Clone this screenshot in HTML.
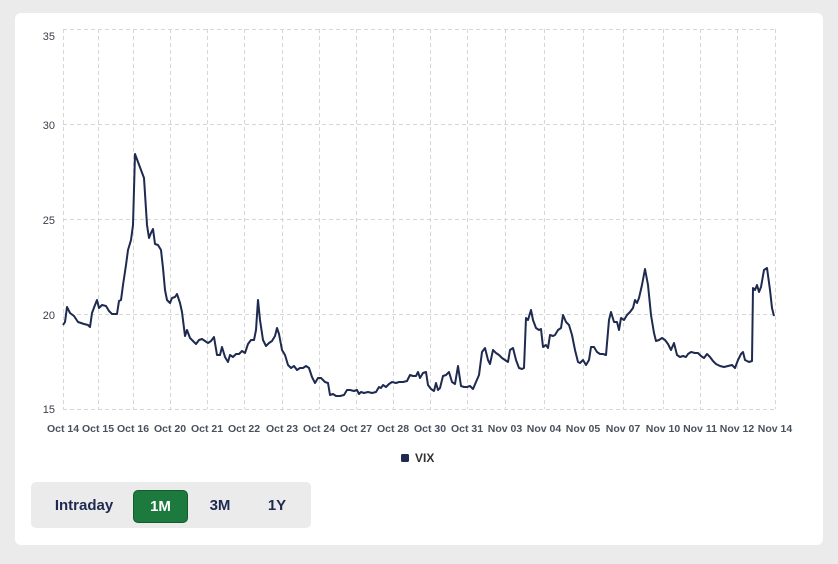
<!DOCTYPE html>
<html><head><style>
body{margin:0;width:838px;height:564px;background:#ebebeb;font-family:"Liberation Sans",sans-serif;overflow:hidden;position:relative}
.card{position:absolute;left:15px;top:13px;width:808px;height:532px;background:#fff;border-radius:6px}
.bar{position:absolute;left:31px;top:482px;width:280px;height:46px;background:#ebebeb;border-radius:5px}
.b{position:absolute;top:490px;height:31px;line-height:31px;font-size:15px;font-weight:bold;color:#1e2a4f;text-align:center}
</style></head><body>
<div class="card"></div>
<svg width="838" height="564" style="position:absolute;left:0;top:0">
<g stroke="#d6d6d6" stroke-dasharray="4,3" fill="none" stroke-width="1">
<line x1="63" y1="29.5" x2="775" y2="29.5"/><line x1="63" y1="124.5" x2="775" y2="124.5"/><line x1="63" y1="219.5" x2="775" y2="219.5"/><line x1="63" y1="314.5" x2="775" y2="314.5"/><line x1="63" y1="409.5" x2="775" y2="409.5"/>
<g id="v"></g>
</g>
<g stroke="#d6d6d6" stroke-dasharray="4,3">
<line x1="63.5" y1="29" x2="63.5" y2="409"/><line x1="98.5" y1="29" x2="98.5" y2="409"/><line x1="133.5" y1="29" x2="133.5" y2="409"/><line x1="170.5" y1="29" x2="170.5" y2="409"/><line x1="207.5" y1="29" x2="207.5" y2="409"/><line x1="244.5" y1="29" x2="244.5" y2="409"/><line x1="282.5" y1="29" x2="282.5" y2="409"/><line x1="319.5" y1="29" x2="319.5" y2="409"/><line x1="356.5" y1="29" x2="356.5" y2="409"/><line x1="393.5" y1="29" x2="393.5" y2="409"/><line x1="430.5" y1="29" x2="430.5" y2="409"/><line x1="467.5" y1="29" x2="467.5" y2="409"/><line x1="505.5" y1="29" x2="505.5" y2="409"/><line x1="544.5" y1="29" x2="544.5" y2="409"/><line x1="583.5" y1="29" x2="583.5" y2="409"/><line x1="623.5" y1="29" x2="623.5" y2="409"/><line x1="663.5" y1="29" x2="663.5" y2="409"/><line x1="700.5" y1="29" x2="700.5" y2="409"/><line x1="737.5" y1="29" x2="737.5" y2="409"/><line x1="775.5" y1="29" x2="775.5" y2="409"/>
</g>
<g font-size="11" fill="#3a3f4a" text-anchor="end">
<text x="55" y="40">35</text><text x="55" y="129">30</text><text x="55" y="224">25</text><text x="55" y="319">20</text><text x="55" y="413">15</text>
</g>
<g font-size="10.5" fill="#4a505c" text-anchor="middle" font-weight="bold">
<text x="63" y="432">Oct 14</text><text x="98" y="432">Oct 15</text><text x="133" y="432">Oct 16</text><text x="170" y="432">Oct 20</text><text x="207" y="432">Oct 21</text><text x="244" y="432">Oct 22</text><text x="282" y="432">Oct 23</text><text x="319" y="432">Oct 24</text><text x="356" y="432">Oct 27</text><text x="393" y="432">Oct 28</text><text x="430" y="432">Oct 30</text><text x="467" y="432">Oct 31</text><text x="505" y="432">Nov 03</text><text x="544" y="432">Nov 04</text><text x="583" y="432">Nov 05</text><text x="623" y="432">Nov 07</text><text x="663" y="432">Nov 10</text><text x="700" y="432">Nov 11</text><text x="737" y="432">Nov 12</text><text x="775" y="432">Nov 14</text>
</g>
<polyline fill="none" stroke="#1e2a4f" stroke-width="2" stroke-linejoin="round" points="63,325 65,322 67,307 70,313 74,316 78,322 84,324 88,325 90,327 92,313 95,305 97,300 99,308 102,305 106,306 109,311 112,314 117,314 119,301 121,300 123,285 126,265 128,250 131,240 133,225 135,154 138,162 141,170 144,178 147,225 149,238 151,233 153,229 155,244 158,245 161,250 163,268 165,290 167,300 170,303 172,298 175,297 177,294 180,303 182,312 185,336 187,330 190,338 193,341 196,344 199,340 202,339 205,341 208,343 211,341 214,337 217,355 220,355 222,347 225,357 228,362 230,355 233,357 236,354 239,354 242,351 245,353 248,344 251,340 254,340 256,330 258,300 260,320 263,340 266,346 269,343 272,341 275,336 277,328 279,334 282,350 285,355 288,365 291,368 294,366 297,370 300,368 303,368 306,366 309,368 312,377 315,383 318,378 321,378 325,382 328,383 330,395 333,394 336,396 340,396 344,395 347,390 350,390 354,391 357,390 359,394 361,392 364,393 368,392 372,393 376,392 379,387 381,388 383,385 386,387 389,384 392,382 396,383 399,382 403,382 407,381 410,375 413,376 416,376 418,372 420,378 423,373 426,372 428,385 431,389 434,391 436,383 438,390 440,388 443,376 446,375 449,372 452,382 455,384 458,366 461,386 464,387 467,387 470,386 473,389 476,382 479,375 482,352 485,348 488,360 490,364 493,350 496,353 499,355 502,358 505,360 508,362 510,350 513,348 516,360 519,368 522,369 524,368 526,318 528,320 531,310 533,320 536,328 539,330 541,329 543,347 546,345 548,348 550,335 553,336 555,335 558,330 561,328 563,315 566,322 569,325 572,335 575,350 578,362 580,363 583,360 586,365 589,360 591,347 594,347 597,352 600,354 603,354 606,355 609,320 611,312 614,322 617,322 619,330 621,318 624,320 627,315 630,312 633,308 635,300 637,303 639,298 642,285 645,269 648,285 651,315 654,333 656,341 659,340 662,338 665,340 668,344 671,350 674,343 677,355 680,357 683,356 686,357 688,354 691,352 695,353 698,353 701,356 704,358 707,354 710,357 713,361 716,364 720,366 724,367 728,366 732,365 735,368 738,360 741,354 743,352 745,360 749,362 752,361 753,288 755,290 757,285 759,292 761,287 764,270 767,268 770,290 772,308 774,316"/>
<rect x="401" y="454" width="8" height="8" rx="1.5" fill="#1e2a4f"/>
<text x="415" y="462" font-size="12" fill="#333" font-weight="bold">VIX</text>
</svg>
<div class="bar"></div>
<div class="b" style="left:50px;width:68px">Intraday</div>
<div class="b" style="left:133px;width:53px;background:#1c7a3f;border:1px solid #135a2d;border-radius:5px;color:#fff">1M</div>
<div class="b" style="left:200px;width:40px">3M</div>
<div class="b" style="left:257px;width:40px">1Y</div>
</body></html>
